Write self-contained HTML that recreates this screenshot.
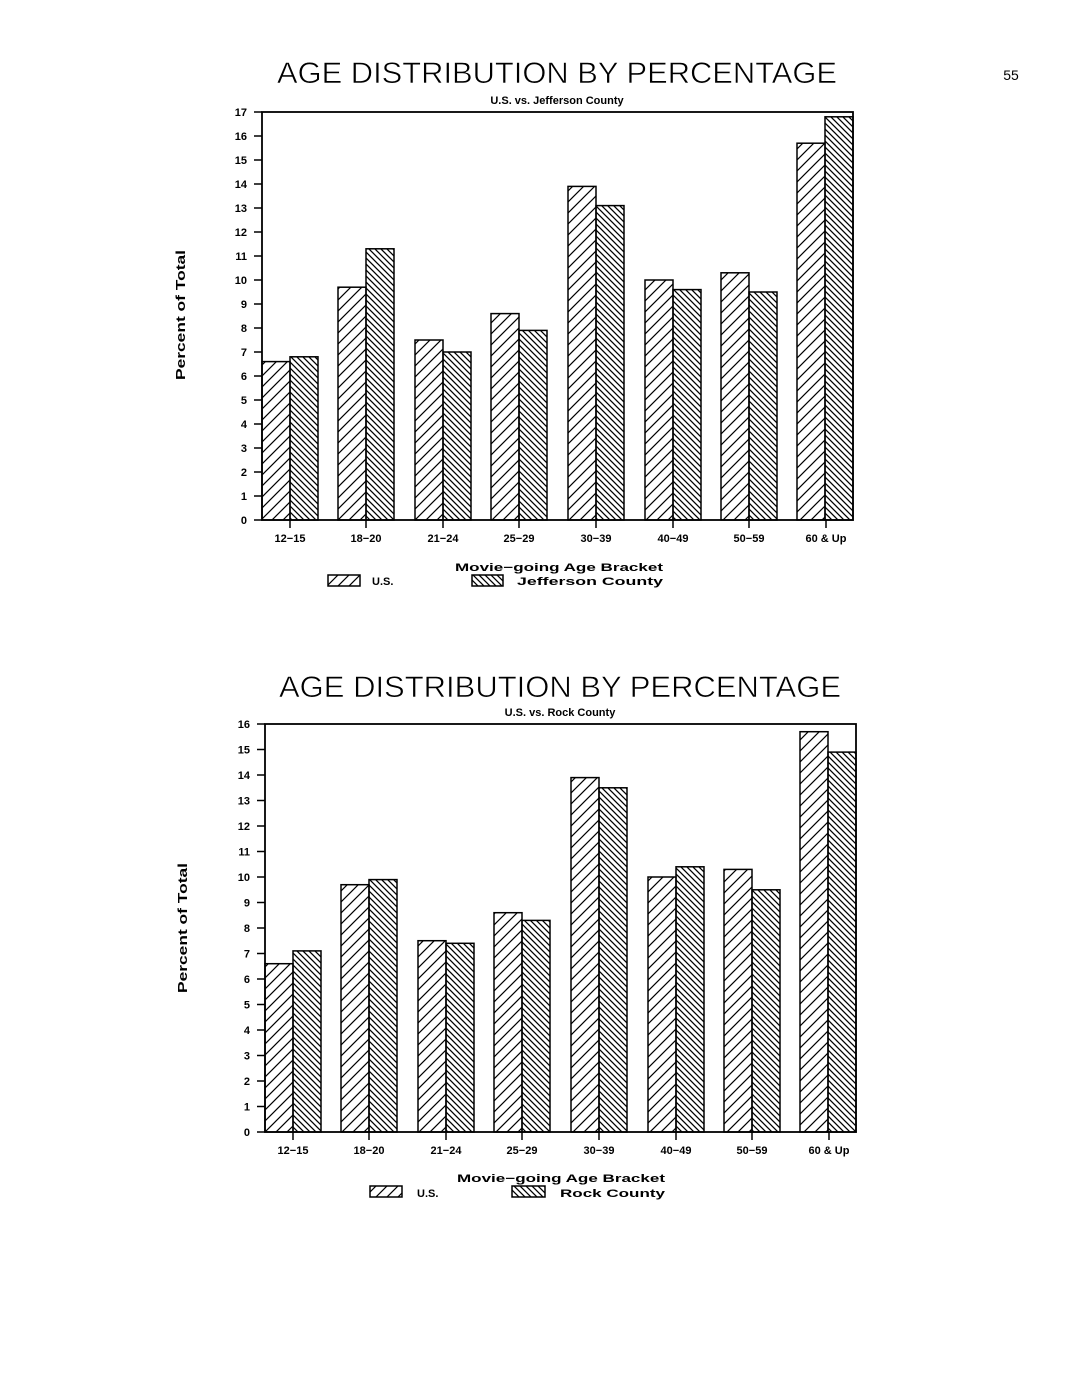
<!DOCTYPE html>
<html><head><meta charset="utf-8"><style>
html,body{margin:0;padding:0;background:#fff}
svg{display:block}
text{font-family:"Liberation Sans",sans-serif;fill:#000}
</style></head><body>
<svg width="1085" height="1380" viewBox="0 0 1085 1380" xmlns="http://www.w3.org/2000/svg">
<defs>
<pattern id="us" patternUnits="userSpaceOnUse" width="11" height="11">
<path d="M-3,14 L14,-3 M-3,3 L3,-3 M8,14 L14,8" stroke="#000" stroke-width="1.2"/>
</pattern>
<pattern id="co" patternUnits="userSpaceOnUse" width="6" height="6">
<path d="M-2,-2 L8,8 M-2,4 L2,8 M4,-2 L8,2" stroke="#000" stroke-width="1.3"/>
</pattern>
</defs>
<text x="1011" y="80" font-size="14" text-anchor="middle">55</text>

<g>
<text x="557" y="83" font-size="30" text-anchor="middle" textLength="560" lengthAdjust="spacingAndGlyphs" stroke="#fff" stroke-width="0.6">AGE DISTRIBUTION BY PERCENTAGE</text>
<text x="557" y="104" font-size="11" font-weight="bold" text-anchor="middle">U.S. vs. Jefferson County</text>
<text transform="translate(185,315) rotate(-90)" font-size="13" font-weight="bold" text-anchor="middle" textLength="130" lengthAdjust="spacingAndGlyphs">Percent of Total</text>
<g font-size="11" font-weight="bold" text-anchor="end">
<text x="247" y="524">0</text><text x="247" y="500">1</text><text x="247" y="476">2</text><text x="247" y="452">3</text><text x="247" y="428">4</text><text x="247" y="404">5</text><text x="247" y="380">6</text><text x="247" y="356">7</text><text x="247" y="332">8</text><text x="247" y="308">9</text><text x="247" y="284">10</text><text x="247" y="260">11</text><text x="247" y="236">12</text><text x="247" y="212">13</text><text x="247" y="188">14</text><text x="247" y="164">15</text><text x="247" y="140">16</text><text x="247" y="116">17</text>
</g>
<g stroke="#000" stroke-width="1.5">
<path d="M254,520h8M254,496h8M254,472h8M254,448h8M254,424h8M254,400h8M254,376h8M254,352h8M254,328h8M254,304h8M254,280h8M254,256h8M254,232h8M254,208h8M254,184h8M254,160h8M254,136h8M254,112h8"/>
<path d="M290,520v8M366,520v8M443,520v8M519,520v8M596,520v8M673,520v8M749,520v8M826,520v8"/>
</g>
<g stroke="#000" stroke-width="1.5">
<rect x="262" y="361.6" width="28" height="158.4" fill="url(#us)"/><rect x="290" y="356.8" width="28" height="163.2" fill="url(#co)"/>
<rect x="338" y="287.2" width="28" height="232.8" fill="url(#us)"/><rect x="366" y="248.8" width="28" height="271.2" fill="url(#co)"/>
<rect x="415" y="340" width="28" height="180" fill="url(#us)"/><rect x="443" y="352" width="28" height="168" fill="url(#co)"/>
<rect x="491" y="313.6" width="28" height="206.4" fill="url(#us)"/><rect x="519" y="330.4" width="28" height="189.6" fill="url(#co)"/>
<rect x="568" y="186.4" width="28" height="333.6" fill="url(#us)"/><rect x="596" y="205.6" width="28" height="314.4" fill="url(#co)"/>
<rect x="645" y="280" width="28" height="240" fill="url(#us)"/><rect x="673" y="289.6" width="28" height="230.4" fill="url(#co)"/>
<rect x="721" y="272.8" width="28" height="247.2" fill="url(#us)"/><rect x="749" y="292" width="28" height="228" fill="url(#co)"/>
<rect x="797" y="143.2" width="28" height="376.8" fill="url(#us)"/><rect x="825" y="116.8" width="28" height="403.2" fill="url(#co)"/>
</g>
<rect x="262" y="112" width="591" height="408" fill="none" stroke="#000" stroke-width="1.8"/>
<g font-size="11" font-weight="bold" text-anchor="middle">
<text x="290" y="542">12−15</text><text x="366" y="542">18−20</text><text x="443" y="542">21−24</text><text x="519" y="542">25−29</text><text x="596" y="542">30−39</text><text x="673" y="542">40−49</text><text x="749" y="542">50−59</text><text x="826" y="542">60 &amp; Up</text>
</g>
<text x="559" y="571" font-size="11" font-weight="bold" text-anchor="middle" textLength="208" lengthAdjust="spacingAndGlyphs">Movie−going Age Bracket</text>
<rect x="328" y="575" width="32" height="11" fill="url(#us)" stroke="#000" stroke-width="1.5"/>
<text x="372" y="585" font-size="11" font-weight="bold">U.S.</text>
<rect x="472" y="575" width="31" height="11" fill="url(#co)" stroke="#000" stroke-width="1.5"/>
<text x="517" y="585" font-size="11" font-weight="bold" textLength="146" lengthAdjust="spacingAndGlyphs">Jefferson County</text>
</g>

<g>
<text x="560" y="697" font-size="30" text-anchor="middle" textLength="562" lengthAdjust="spacingAndGlyphs" stroke="#fff" stroke-width="0.6">AGE DISTRIBUTION BY PERCENTAGE</text>
<text x="560" y="716" font-size="11" font-weight="bold" text-anchor="middle">U.S. vs. Rock County</text>
<text transform="translate(187,928) rotate(-90)" font-size="13" font-weight="bold" text-anchor="middle" textLength="130" lengthAdjust="spacingAndGlyphs">Percent of Total</text>
<g font-size="11" font-weight="bold" text-anchor="end">
<text x="250" y="1136">0</text><text x="250" y="1110.5">1</text><text x="250" y="1085">2</text><text x="250" y="1059.5">3</text><text x="250" y="1034">4</text><text x="250" y="1008.5">5</text><text x="250" y="983">6</text><text x="250" y="957.5">7</text><text x="250" y="932">8</text><text x="250" y="906.5">9</text><text x="250" y="881">10</text><text x="250" y="855.5">11</text><text x="250" y="830">12</text><text x="250" y="804.5">13</text><text x="250" y="779">14</text><text x="250" y="753.5">15</text><text x="250" y="728">16</text>
</g>
<g stroke="#000" stroke-width="1.5">
<path d="M257,1132h8M257,1106.5h8M257,1081h8M257,1055.5h8M257,1030h8M257,1004.5h8M257,979h8M257,953.5h8M257,928h8M257,902.5h8M257,877h8M257,851.5h8M257,826h8M257,800.5h8M257,775h8M257,749.5h8M257,724h8"/>
<path d="M293,1132v8M369,1132v8M446,1132v8M522,1132v8M599,1132v8M676,1132v8M752,1132v8M829,1132v8"/>
</g>
<g stroke="#000" stroke-width="1.5">
<rect x="265" y="963.7" width="28" height="168.3" fill="url(#us)"/><rect x="293" y="950.9" width="28" height="181.1" fill="url(#co)"/>
<rect x="341" y="884.7" width="28" height="247.3" fill="url(#us)"/><rect x="369" y="879.6" width="28" height="252.4" fill="url(#co)"/>
<rect x="418" y="940.7" width="28" height="191.3" fill="url(#us)"/><rect x="446" y="943.3" width="28" height="188.7" fill="url(#co)"/>
<rect x="494" y="912.7" width="28" height="219.3" fill="url(#us)"/><rect x="522" y="920.4" width="28" height="211.6" fill="url(#co)"/>
<rect x="571" y="777.6" width="28" height="354.4" fill="url(#us)"/><rect x="599" y="787.8" width="28" height="344.2" fill="url(#co)"/>
<rect x="648" y="877" width="28" height="255" fill="url(#us)"/><rect x="676" y="866.8" width="28" height="265.2" fill="url(#co)"/>
<rect x="724" y="869.4" width="28" height="262.6" fill="url(#us)"/><rect x="752" y="889.8" width="28" height="242.2" fill="url(#co)"/>
<rect x="800" y="731.7" width="28" height="400.3" fill="url(#us)"/><rect x="828" y="752.1" width="28" height="379.9" fill="url(#co)"/>
</g>
<rect x="265" y="724" width="591" height="408" fill="none" stroke="#000" stroke-width="1.8"/>
<g font-size="11" font-weight="bold" text-anchor="middle">
<text x="293" y="1154">12−15</text><text x="369" y="1154">18−20</text><text x="446" y="1154">21−24</text><text x="522" y="1154">25−29</text><text x="599" y="1154">30−39</text><text x="676" y="1154">40−49</text><text x="752" y="1154">50−59</text><text x="829" y="1154">60 &amp; Up</text>
</g>
<text x="561" y="1182" font-size="11" font-weight="bold" text-anchor="middle" textLength="208" lengthAdjust="spacingAndGlyphs">Movie−going Age Bracket</text>
<rect x="370" y="1186" width="32" height="11" fill="url(#us)" stroke="#000" stroke-width="1.5"/>
<text x="417" y="1197" font-size="11" font-weight="bold">U.S.</text>
<rect x="512" y="1186" width="33" height="11" fill="url(#co)" stroke="#000" stroke-width="1.5"/>
<text x="560" y="1197" font-size="11" font-weight="bold" textLength="105" lengthAdjust="spacingAndGlyphs">Rock County</text>
</g>
</svg>
</body></html>
